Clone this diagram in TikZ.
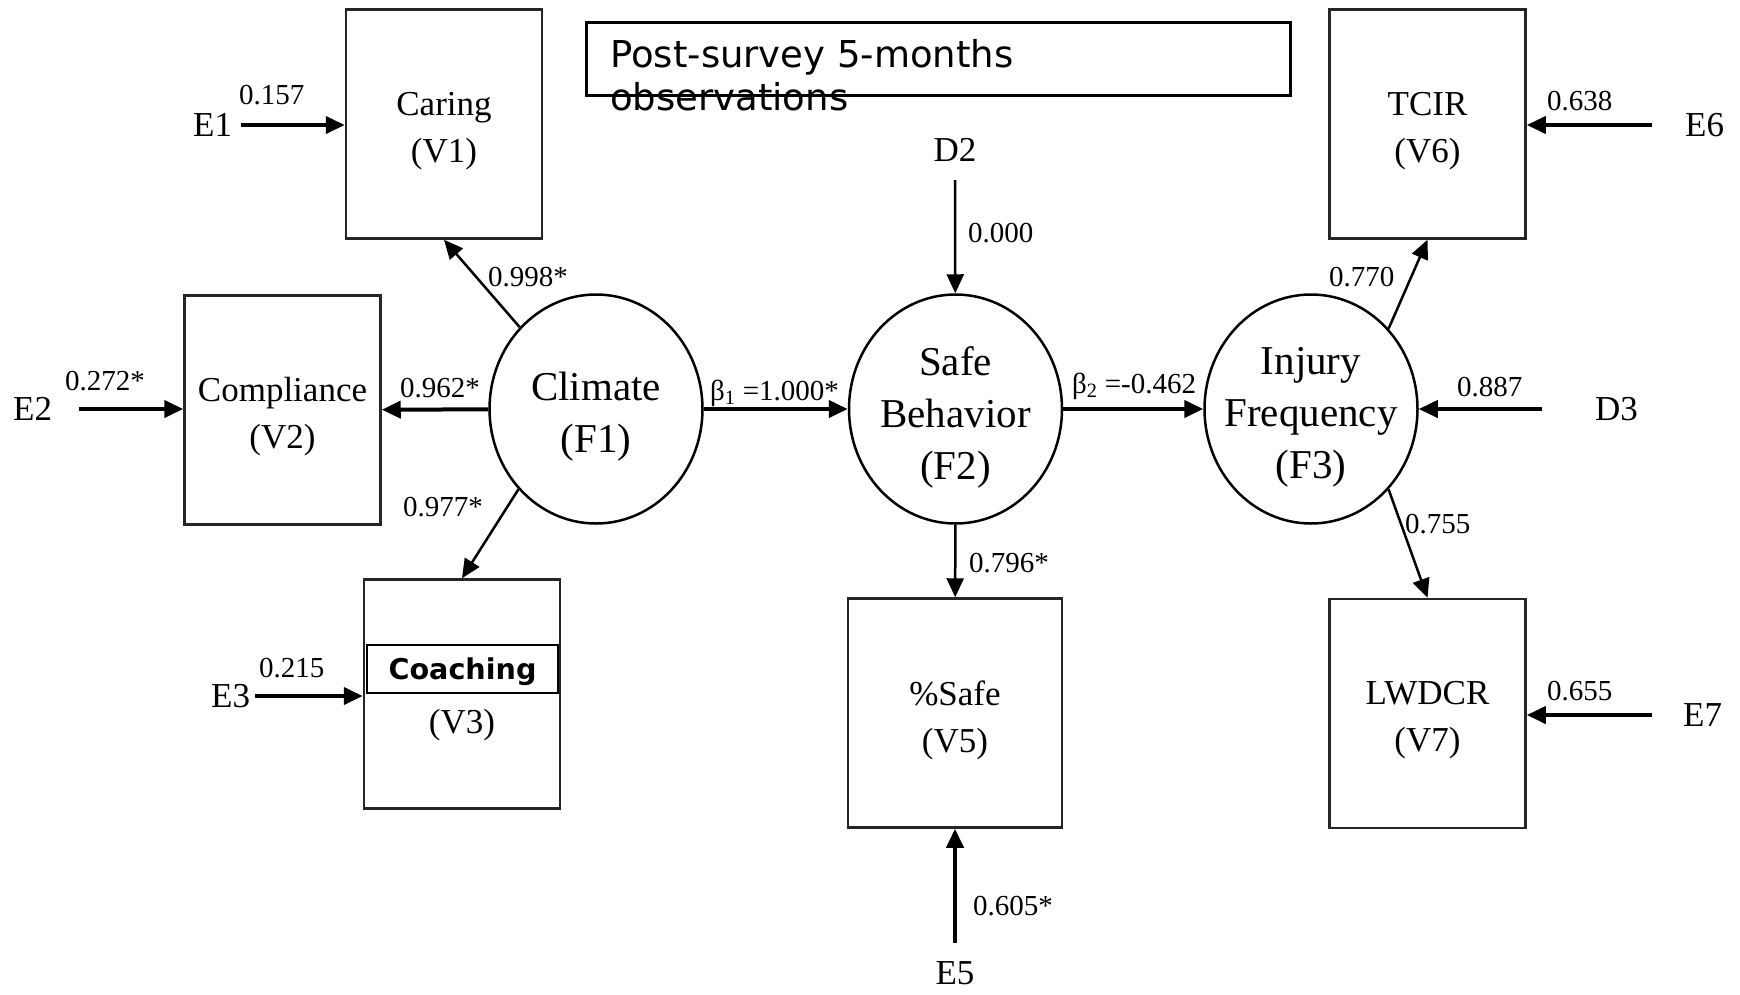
\documentclass[tikz,border=0pt]{standalone}
\usepackage{fontspec}
\setmainfont{Liberation Serif}
\newfontfamily\dejavu{DejaVu Sans}
\usetikzlibrary{shapes.geometric,arrows.meta}

\begin{document}
\begin{tikzpicture}[x=1pt, y=-1pt,
  var/.style={draw=black!85, line width=2.5pt, rectangle, minimum width=196pt, minimum height=229pt, inner sep=0pt},
  fac/.style={draw=black, line width=2.5pt, ellipse, minimum width=213pt, minimum height=229pt, inner sep=0pt},
  vtxt/.style={align=center, inner sep=0pt, font=\fontsize{35}{47}\selectfont},
  ftxt/.style={align=center, inner sep=0pt, font=\fontsize{41}{52}\selectfont},
  err/.style={inner sep=0pt, font=\fontsize{35}{42}\selectfont},
  coef/.style={inner sep=0pt, anchor=base west, font=\fontsize{29}{34}\selectfont},
  thickarr/.style={line width=4pt, -{Triangle[length=19pt,width=17pt]}},
  thinarr/.style={line width=2.5pt, -{Triangle[length=19pt,width=17pt]}}]

\path[fill=white, use as bounding box] (0,0) rectangle (1740,994);

% observed variables
\node[var] (V1) at (444,124) {};
\node[var] (V2) at (282.5,410) {};
\node[var] (V3) at (462,694) {};
\node[var, minimum width=214pt] (V5) at (955,713) {};
\node[var] (V6) at (1427.5,124) {};
\node[var] (V7) at (1427.5,713.5) {};

\node[vtxt] (V1t) at ([yshift=-7pt]V1.center) {Caring\\(V1)};
\node[vtxt] (V2t) at ([yshift=-7pt]V2.center) {Compliance\\(V2)};
\node[vtxt, anchor=base] (V3t) at (462,733) {(V3)};
\node[vtxt] (V5t) at ([yshift=-7pt]V5.center) {\%Safe\\(V5)};
\node[vtxt] (V6t) at ([yshift=-7pt]V6.center) {TCIR\\(V6)};
\node[vtxt] (V7t) at ([yshift=-7pt]V7.center) {LWDCR\\(V7)};

% factors
\node[fac] (F1) at (596,409) {};
\node[fac] (F2) at (955.5,409) {};
\node[fac] (F3) at (1311,409) {};

\node[ftxt] (F1t) at ([yshift=-8pt]F1.center) {Climate\\(F1)};
\node[ftxt] (F2t) at ([yshift=-8pt]F2.center) {Safe\\Behavior\\(F2)};
\node[ftxt] (F3t) at ([yshift=-8pt]F3.center) {Injury\\Frequency\\(F3)};

% errors and disturbances
\node[err, anchor=west] (E1) at (193,125) {E1};
\node[err, anchor=west] (E2) at (13,409) {E2};
\node[err, anchor=west] (E3) at (211,696) {E3};
\node[err, anchor=north] (E5) at (955,961) {E5};
\node[err, anchor=south] (D2) at (955,162) {D2};
\node[err, anchor=west] (E6) at (1685,125) {E6};
\node[err, anchor=west] (D3) at (1595,409) {D3};
\node[err, anchor=west] (E7) at (1683,715) {E7};

\draw[thickarr, shorten <=9pt] (E1) -- (E1 -| V1.west);
\draw[thickarr, shorten <=27pt] (E2) -- (E2 -| V2.west);
\draw[thickarr, shorten <=5pt] (E3) -- (E3 -| V3.west);
\draw[thickarr, shorten <=18pt] (E5) -- (V5);
\draw[thinarr, shorten <=18pt] (D2) -- (F2);
\draw[thickarr, shorten <=33pt] (E6) -- (E6 -| V6.east);
\draw[thickarr, shorten <=53pt] (D3) -- (F3);
\draw[thickarr, shorten <=31pt] (E7) -- (E7 -| V7.east);

% paths
\draw[thinarr] (F1.133) -- (V1.south);
\draw[thickarr] (F1) -- (V2);
\draw[thinarr] (F1.226) -- (V3.north);
\draw[thickarr] (F1) -- (F2);
\draw[thickarr] (F2) -- (F3);
\draw[thinarr] (F2) -- (V5);
\draw[thinarr] (F3.46) -- (V6.south);
\draw[thinarr] (F3.314) -- (V7.north);

% coefficients
\node[coef] (cE1) at (239,104) {0.157};
\node[coef] (cE2) at (65,390) {0.272*};
\node[coef] (cE3) at (259,677) {0.215};
\node[coef] (cV1) at (488,286) {0.998*};
\node[coef] (cV2) at (400,397) {0.962*};
\node[coef] (cV3) at (403,516) {0.977*};
\node[coef] (cF2) at (710,400) {β\textsubscript{1} =1.000*};
\node[coef] (cD2) at (968,242) {0.000};
\node[coef] (cF3) at (1072,393) {β\textsubscript{2} =-0.462};
\node[coef] (cV5) at (969,572) {0.796*};
\node[coef] (cE5) at (973,915) {0.605*};
\node[coef] (cV6) at (1329,286) {0.770};
\node[coef] (cV7) at (1405,533) {0.755};
\node[coef] (cE6) at (1547,110) {0.638};
\node[coef] (cD3) at (1457,396) {0.887};
\node[coef] (cE7) at (1547,700) {0.655};

% pasted-over boxes
\node[draw, line width=2pt, fill=white, minimum width=191pt, minimum height=48pt, inner sep=0pt, text depth=0pt,
  font=\dejavu\bfseries\fontsize{28.6}{34}\selectfont] (coach) at (462.5,669) {Coaching};
\node[draw, line width=3pt, minimum width=704pt, minimum height=73pt, inner sep=0pt] (post) at (938,58.5) {};
\node[anchor=north west, align=left, inner sep=0pt, font=\dejavu\fontsize{37}{43}\selectfont] (postt) at (610,39) {Post-survey 5-months\\observations};

\end{tikzpicture}
\end{document}
